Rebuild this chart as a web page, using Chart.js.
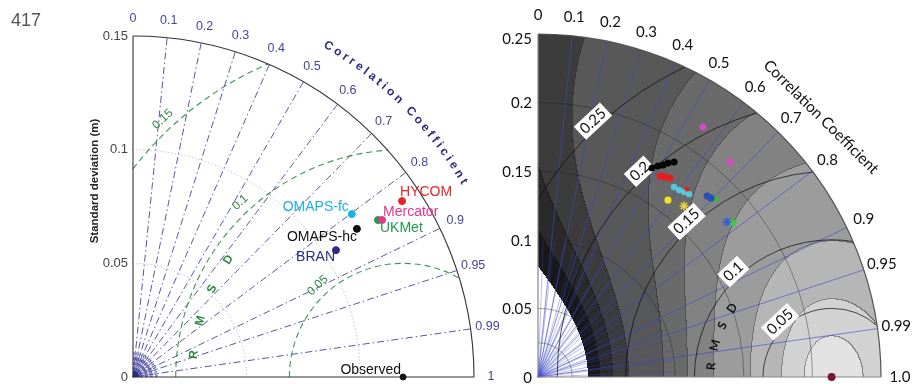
<!DOCTYPE html>
<html>
<head>
<meta charset="utf-8">
<script src="https://cdn.jsdelivr.net/npm/chart.js@4.4.0/dist/chart.umd.min.js"></script>
<style>
  html, body { margin: 0; padding: 0; background: #fff; width: 920px; height: 384px; overflow: hidden; }
  #left { position: absolute; left: 0; top: 0; }
  #right { position: absolute; left: 460px; top: 0; }
</style>
</head>
<body>
<canvas id="left" width="530" height="384"></canvas>
<canvas id="right" width="460" height="384"></canvas>
<script>
// ---- left diagram (model comparison) ----
const leftMax = 0.15;
const leftStdTicks = [0, 0.05, 0.1, 0.15];
const leftCorrTicks = [0, 0.1, 0.2, 0.3, 0.4, 0.5, 0.6, 0.7, 0.8, 0.9, 0.95, 0.99, 1];
const leftCorrLabels = ['0', '0.1', '0.2', '0.3', '0.4', '0.5', '0.6', '0.7', '0.8', '0.9', '0.95', '0.99', '1'];
const leftRmsLevels = [0.05, 0.1, 0.15];
const leftModels = ['HYCOM', 'Mercator', 'UKMet', 'OMAPS-fc', 'OMAPS-hc', 'BRAN', 'Observed'];
const leftStd = [0.1414, 0.1295, 0.1280, 0.1200, 0.1181, 0.1053, 0.1188];
const leftCorr = [0.837, 0.846, 0.842, 0.802, 0.834, 0.848, 1];
const leftObsStd = 0.1188;

// ---- right diagram (ensemble clusters) ----
const rightMax = 0.25;
const rightStdTicks = [0, 0.05, 0.1, 0.15, 0.2, 0.25];
const rightCorrTicks = [0, 0.1, 0.2, 0.3, 0.4, 0.5, 0.6, 0.7, 0.8, 0.9, 0.95, 0.99, 1];
const rightCorrLabels = ['0', '0.1', '0.2', '0.3', '0.4', '0.5', '0.6', '0.7', '0.8', '0.9', '0.95', '0.99', '1.0'];
const rightRmsLevels = [0.05, 0.1, 0.15, 0.2, 0.25];
const rightObsStd = 0.214;
const trailStd = [0.1735, 0.1769, 0.1794, 0.1825, 0.1854];
const trailCorr = [0.479, 0.494, 0.508, 0.519, 0.535];
const redStd = [0.1714, 0.1727, 0.1740];
const redCorr = [0.519, 0.536, 0.553];
const redSmallStd = [0.1748];
const redSmallCorr = [0.621];
const cyanStd = [0.1703, 0.1707, 0.1718, 0.1729];
const cyanCorr = [0.582, 0.602, 0.620, 0.637];
const yellowStd = [0.1600];
const yellowCorr = [0.592];
const yellowStarStd = [0.1639];
const yellowStarCorr = [0.649];
const blueStd = [0.1805, 0.1814];
const blueCorr = [0.683, 0.695];
const greenStd = [0.1835];
const greenCorr = [0.707];
const blueStarStd = [0.1782];
const blueStarCorr = [0.773];
const greenStarStd = [0.1811];
const greenStarCorr = [0.785];
const magentaStd = [0.2183, 0.2101];
const magentaCorr = [0.551, 0.666];

// skill shading levels and greys
const bandLimits = [0.109, 0.16, 0.225, 0.314, 0.519, 0.651, 0.774, 0.9, 0.965, 0.99];
const bandGreys = [255, 24, 42, 60, 88, 106, 130, 156, 182, 210, 226];

const leftColors = ['#e8262a', '#e8338a', '#1f9a4c', '#1cb0ea', '#111111', '#2b2b86', '#111111'];
const leftLabelPos = [[-2, -9, 'left'], [1, -8, 'left'], [2, 8, 'left'], [-3, -7, 'right'], [0, 8, 'right'], [-1, 7, 'right'], [-2, -7, 'right']];

function toXY(std, corr) {
  return std.map((s, i) => {
    const a = Math.acos(Math.min(1, corr[i]));
    return { x: s * Math.cos(a), y: s * Math.sin(a) };
  });
}

function px(chart, x, y) {
  return [chart.scales.x.getPixelForValue(x), chart.scales.y.getPixelForValue(y)];
}

function rLen(chart, r) {
  return chart.scales.x.getPixelForValue(r) - chart.scales.x.getPixelForValue(0);
}

function polarPx(chart, r, ang) {
  return px(chart, r * Math.cos(ang), r * Math.sin(ang));
}

function txt(ctx, s, x, y, font, color, align, rot) {
  ctx.save();
  ctx.font = font;
  ctx.fillStyle = color;
  ctx.textAlign = align || 'center';
  ctx.textBaseline = 'middle';
  ctx.translate(x, y);
  if (rot) ctx.rotate(rot);
  ctx.fillText(s, 0, 0);
  ctx.restore();
}

// arc of rms circle centred on observed point, kept inside the quadrant
function rmsArc(ctx, chart, obs, L, max) {
  let phiStart = Math.PI;
  if (obs - L < 0) phiStart = Math.acos(-obs / L);
  const c = (max * max - obs * obs - L * L) / (2 * obs * L);
  if (c <= -1) return;
  const phiEnd = c >= 1 ? 0 : Math.acos(c);
  if (phiEnd >= phiStart) return;
  const [cx, cy] = px(chart, obs, 0);
  ctx.beginPath();
  ctx.arc(cx, cy, rLen(chart, L), -phiStart, -phiEnd);
  ctx.stroke();
}

function stdArc(ctx, chart, r) {
  const [ox, oy] = px(chart, 0, 0);
  ctx.beginPath();
  ctx.arc(ox, oy, rLen(chart, r), -Math.PI / 2, 0);
  ctx.stroke();
}

function ray(ctx, chart, corr, r0, r1) {
  const a = Math.acos(corr);
  const p0 = polarPx(chart, r0, a), p1 = polarPx(chart, r1, a);
  ctx.beginPath();
  ctx.moveTo(p0[0], p0[1]);
  ctx.lineTo(p1[0], p1[1]);
  ctx.stroke();
}

// letters placed along a circle, reading clockwise
function arcText(ctx, chart, s, cx, r, midAng, font, color, spacing) {
  ctx.save();
  ctx.font = font;
  const widths = [...s].map(ch => ctx.measureText(ch).width + spacing);
  const total = widths.reduce((a, b) => a + b, 0) - spacing;
  const rp = rLen(chart, r);
  let ang = midAng + (total / 2) / rp;
  [...s].forEach((ch, i) => {
    const a = ang - (widths[i] - spacing) / 2 / rp;
    const [x, y] = px(chart, cx + r * Math.cos(a), r * Math.sin(a));
    txt(ctx, ch, x, y, font, color, 'center', Math.atan2(Math.cos(a), Math.sin(a)));
    ang -= widths[i] / rp;
  });
  ctx.restore();
}

const leftPlugin = {
  id: 'leftTaylor',
  beforeDatasetsDraw(chart) {
    const ctx = chart.ctx;
    const [ox, oy] = px(chart, 0, 0);
    ctx.save();
    // std dotted arcs
    ctx.strokeStyle = '#a8a8a8';
    ctx.lineWidth = 1;
    ctx.setLineDash([1, 2.5]);
    [0.05, 0.1, 0.004, 0.008].forEach(r => stdArc(ctx, chart, r));
    // correlation rays
    ctx.strokeStyle = '#5656aa';
    ctx.setLineDash([7, 3, 1.5, 3]);
    leftCorrTicks.slice(1, -1).forEach(c => ray(ctx, chart, c, 0, leftMax));
    // dense fan near the origin
    ctx.setLineDash([3, 2]);
    ctx.lineWidth = 1.2;
    for (let d = 2.5; d < 90; d += 5) ray(ctx, chart, Math.cos(d * Math.PI / 180), 0.003, 0.011);
    ctx.setLineDash([]);
    ctx.fillStyle = '#2b2b86';
    ctx.beginPath();
    ctx.moveTo(ox, oy);
    ctx.arc(ox, oy, rLen(chart, 0.0028), -Math.PI / 2, 0);
    ctx.fill();
    // rmsd arcs
    ctx.strokeStyle = '#3b9650';
    ctx.lineWidth = 1.1;
    ctx.setLineDash([6, 4]);
    leftRmsLevels.forEach(L => rmsArc(ctx, chart, leftObsStd, L, leftMax));
    ctx.setLineDash([]);
    // frame
    ctx.strokeStyle = '#333';
    ctx.lineWidth = 1.1;
    stdArc(ctx, chart, leftMax);
    const top = px(chart, 0, leftMax), right = px(chart, leftMax, 0);
    ctx.beginPath();
    ctx.moveTo(top[0], top[1]);
    ctx.lineTo(ox, oy);
    ctx.lineTo(right[0], right[1]);
    ctx.stroke();
    ctx.restore();

    // rmsd labels
    const green = '#2f8a44';
    const lab = 133 * Math.PI / 180;
    leftRmsLevels.forEach(L => {
      const [x, y] = px(chart, leftObsStd + (L + 0.005) * Math.cos(lab), (L + 0.005) * Math.sin(lab));
      txt(ctx, String(L), x, y, '12px "Liberation Sans", Arial', green, 'center', Math.atan2(Math.cos(lab), Math.sin(lab)));
    });
    arcText(ctx, chart, 'RMSD', leftObsStd, 0.0925, 160 * Math.PI / 180, 'bold 12px "Liberation Sans", Arial', green, 25);
  },
  afterDatasetsDraw(chart) {
    const ctx = chart.ctx;
    const font = '13px "Liberation Sans", Arial';
    leftStdTicks.forEach(v => {
      const [, y] = px(chart, 0, v);
      txt(ctx, String(v), 128, y, font, '#444', 'right');
    });
    leftCorrTicks.forEach((c, i) => {
      const [x, y] = polarPx(chart, leftMax * 1.05, Math.acos(c));
      txt(ctx, leftCorrLabels[i], x, y, '12.5px "Liberation Sans", Arial', '#45459c', 'center');
    });
    arcText(ctx, chart, 'Correlation Coefficient', 0, 0.169, 45.2 * Math.PI / 180, 'bold 12px "Liberation Sans", Arial', '#2b2b80', 3.2);
    txt(ctx, 'Standard deviation (m)', 95, 181, 'bold 11.5px "Liberation Sans", Arial', '#222', 'center', -Math.PI / 2);
    txt(ctx, '417', 11, 21, '18px "Liberation Sans", Arial', '#555', 'left');
    leftModels.forEach((name, i) => {
      const p = toXY([leftStd[i]], [leftCorr[i]])[0];
      const [x, y] = px(chart, p.x, p.y);
      const [dx, dy, al] = leftLabelPos[i];
      txt(ctx, name, x + dx, y + dy, '14px "Liberation Sans", Arial', leftColors[i], al);
    });
  }
};

new Chart(document.getElementById('left'), {
  type: 'scatter',
  data: {
    datasets: leftModels.map((name, i) => ({
      label: name,
      data: toXY([leftStd[i]], [leftCorr[i]]),
      backgroundColor: leftColors[i],
      borderColor: leftColors[i],
      pointRadius: i === 6 ? 3 : 3.5,
      clip: false
    }))
  },
  options: {
    responsive: false,
    animation: false,
    devicePixelRatio: 1,
    layout: { padding: { left: 133, top: 36, right: 56, bottom: 7 } },
    scales: {
      x: { type: 'linear', min: 0, max: leftMax, display: false },
      y: { type: 'linear', min: 0, max: leftMax, display: false }
    },
    plugins: { legend: { display: false }, tooltip: { enabled: false } }
  },
  plugins: [leftPlugin]
});

// ---- right chart ----
function skill(x, y) {
  const r = Math.hypot(x, y);
  const R = r > 0 ? x / r : 0;
  const s = r / rightObsStd;
  if (s === 0) return 0;
  return 4 * Math.pow((1 + R) / 2, 2) / Math.pow(s + 1 / s, 2);
}

function bandOf(v) {
  let b = 0;
  while (b < bandLimits.length && v >= bandLimits[b]) b++;
  return b;
}

const rightPlugin = {
  id: 'rightTaylor',
  beforeDatasetsDraw(chart) {
    const ctx = chart.ctx;
    const area = chart.chartArea;
    const xs = chart.scales.x, ys = chart.scales.y;
    const w = Math.round(area.right - area.left), h = Math.round(area.bottom - area.top);
    const off = document.createElement('canvas');
    off.width = w; off.height = h;
    const octx = off.getContext('2d');
    const img = octx.createImageData(w, h);
    const bands = new Int16Array(w * h).fill(-1);
    for (let j = 0; j < h; j++) {
      const y = ys.getValueForPixel(area.top + j + 0.5);
      for (let i = 0; i < w; i++) {
        const x = xs.getValueForPixel(area.left + i + 0.5);
        if (Math.hypot(x, y) > rightMax) continue;
        bands[j * w + i] = bandOf(skill(x, y));
      }
    }
    for (let j = 0; j < h; j++) {
      for (let i = 0; i < w; i++) {
        const b = bands[j * w + i];
        if (b < 0) continue;
        let g = bandGreys[b];
        const edge = (i > 0 && bands[j * w + i - 1] >= 0 && bands[j * w + i - 1] !== b) ||
                     (j > 0 && bands[(j - 1) * w + i] >= 0 && bands[(j - 1) * w + i] !== b);
        if (edge && b > 1) g = Math.round(g * 0.62);
        const k = (j * w + i) * 4;
        img.data[k] = img.data[k + 1] = img.data[k + 2] = g;
        img.data[k + 3] = 255;
      }
    }
    octx.putImageData(img, 0, 0);
    ctx.drawImage(off, area.left, area.top);

    const [ox, oy] = px(chart, 0, 0);
    ctx.save();
    // std arcs
    ctx.strokeStyle = 'rgba(30,30,30,0.4)';
    ctx.lineWidth = 1;
    [0.025, 0.05, 0.1, 0.15, 0.2].forEach(r => stdArc(ctx, chart, r));
    // correlation rays
    ctx.strokeStyle = 'rgba(60,70,200,0.6)';
    ctx.lineWidth = 1;
    rightCorrTicks.slice(1, -1).forEach(c => ray(ctx, chart, c, 0, rightMax));
    ctx.strokeStyle = 'rgba(60,70,200,0.45)';
    ctx.lineWidth = 0.8;
    for (let d = 2.25; d < 90; d += 4.5) ray(ctx, chart, Math.cos(d * Math.PI / 180), 0, 0.1);
    // rmsd circles
    ctx.strokeStyle = 'rgba(10,10,10,0.7)';
    ctx.lineWidth = 1;
    rightRmsLevels.forEach(L => rmsArc(ctx, chart, rightObsStd, L, rightMax));
    // frame
    ctx.strokeStyle = '#555';
    ctx.lineWidth = 1.2;
    stdArc(ctx, chart, rightMax);
    const top = px(chart, 0, rightMax), right = px(chart, rightMax, 0);
    ctx.strokeStyle = '#888';
    ctx.beginPath();
    ctx.moveTo(top[0], top[1]);
    ctx.lineTo(ox, oy);
    ctx.lineTo(right[0], right[1]);
    ctx.stroke();
    ctx.restore();

    // rmsd labels in white boxes
    const lab = 133 * Math.PI / 180;
    const font = '15px Lato';
    rightRmsLevels.forEach(L => {
      const [x, y] = px(chart, rightObsStd + (L + 0.005) * Math.cos(lab), (L + 0.005) * Math.sin(lab));
      const rot = Math.atan2(Math.cos(lab), Math.sin(lab));
      ctx.save();
      ctx.font = font;
      const tw = ctx.measureText(String(L)).width;
      ctx.translate(x, y);
      ctx.rotate(rot);
      ctx.fillStyle = '#fff';
      ctx.fillRect(-tw / 2 - 3, -9, tw + 6, 18);
      ctx.restore();
      txt(ctx, String(L), x, y, font, '#111', 'center', rot);
    });
    arcText(ctx, chart, 'RMSD', rightObsStd, 0.088, 160 * Math.PI / 180, 'bold 12px Lato', '#111', 12);
  },
  afterDatasetsDraw(chart) {
    const ctx = chart.ctx;
    const font = '15px Lato';
    rightStdTicks.forEach(v => {
      const [, y] = px(chart, 0, v);
      txt(ctx, String(v), 72, y + (v === rightMax ? 5 : 1), font, '#111', 'right');
    });
    rightCorrTicks.forEach((c, i) => {
      const [x, y] = polarPx(chart, rightMax * 1.055, Math.acos(c));
      txt(ctx, rightCorrLabels[i], x, y, font, '#111', 'center');
    });
    txt(ctx, 'Correlation Coefficient', 821 - 460, 117, '15.5px Lato', '#111', 'center', 44.7 * Math.PI / 180);
  }
};

function cluster(std, corr, color, radius, style, extra) {
  return Object.assign({
    data: toXY(std, corr),
    backgroundColor: color,
    borderColor: color,
    pointRadius: radius,
    pointStyle: style || 'circle',
    borderWidth: style === 'star' ? 1.5 : 0,
    clip: false
  }, extra || {});
}

new Chart(document.getElementById('right'), {
  type: 'scatter',
  data: {
    datasets: [
      cluster(magentaStd, magentaCorr, '#d548c6', 3.5),
      cluster(trailStd, trailCorr, '#050505', 2.4, 'circle', { showLine: true, borderWidth: 2.2 }),
      cluster(redStd, redCorr, '#e3201e', 3.6),
      cluster(redSmallStd, redSmallCorr, '#e3201e', 2.5),
      cluster(cyanStd, cyanCorr, '#55c8dc', 3.2),
      cluster(yellowStd, yellowCorr, '#f2e21c', 3.6),
      cluster(yellowStarStd, yellowStarCorr, '#e8d040', 4.5, 'star'),
      cluster(blueStd, blueCorr, '#2a4fb4', 3.6),
      cluster(greenStd, greenCorr, '#43b043', 3.2),
      cluster(blueStarStd, blueStarCorr, '#3a5ad8', 4.5, 'star'),
      cluster(greenStarStd, greenStarCorr, '#44c844', 4.5, 'star'),
      cluster([rightObsStd], [1], '#7a1335', 4)
    ]
  },
  options: {
    responsive: false,
    animation: false,
    devicePixelRatio: 1,
    layout: { padding: { left: 78, top: 34, right: 39, bottom: 7 } },
    scales: {
      x: { type: 'linear', min: 0, max: rightMax, display: false },
      y: { type: 'linear', min: 0, max: rightMax, display: false }
    },
    plugins: { legend: { display: false }, tooltip: { enabled: false } }
  },
  plugins: [rightPlugin]
});
</script>
</body>
</html>
